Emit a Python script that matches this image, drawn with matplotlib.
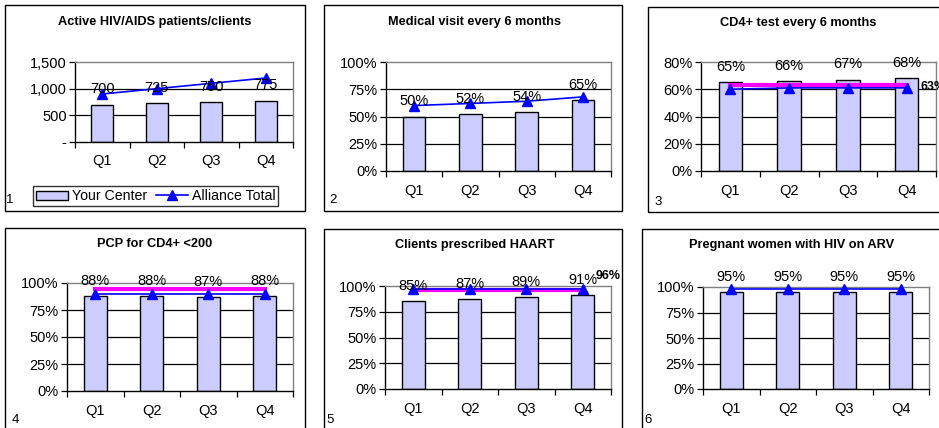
import matplotlib
matplotlib.use("Agg")
import matplotlib.pyplot as plt
from matplotlib.patches import Rectangle
from matplotlib.lines import Line2D
from matplotlib.ticker import FuncFormatter

plt.rcParams['font.family'] = ['Liberation Sans', 'DejaVu Sans']

W, H = 939, 428

quarters = ['Q1', 'Q2', 'Q3', 'Q4']

titles = [
    'Active HIV/AIDS patients/clients',
    'Medical visit every 6 months',
    'CD4+ test every 6 months',
    'PCP for CD4+ <200',
    'Clients prescribed HAART',
    'Pregnant women with HIV on ARV',
]

# Your Center (bars)
center_vals = [
    [700, 725, 750, 775],
    [50, 52, 54, 65],
    [65, 66, 67, 68],
    [88, 88, 87, 88],
    [85, 87, 89, 91],
    [95, 95, 95, 95],
]

# Alliance Total (blue line)
alliance_vals = [
    [900, 1000, 1100, 1200],
    [60, 62, 64, 68],
    [60, 61, 61, 61],
    [90, 90, 90, 90],
    [97, 97, 97, 97],
    [98, 98, 98, 98],
]

# benchmark (magenta line); None where not shown
target_vals = [None, None, 63, 94, 96, None]
target_labels = [False, False, True, False, True, False]

y_max = [1500, 100, 80, 100, 100, 100]
y_step = [500, 25, 20, 25, 25, 25]

# pixel layout: outer panel box and inner plot area
panel_boxes = [
    (5, 5, 305, 211), (324, 5, 622, 211), (648, 7, 950, 212),
    (5, 228, 305, 440), (324, 229, 622, 440), (642, 229, 950, 440),
]
plot_areas = [
    (75, 62, 293, 142), (386, 62, 611, 171), (701, 62, 936, 171),
    (67, 283, 293, 391), (385, 286, 611, 389), (703, 287, 929, 389),
]
title_pos = [(155, 22), (474, 22), (798, 23), (155, 244), (475, 245), (792, 245)]
num_pos = [(10, 200), (333, 200), (658, 202), (15, 420), (330, 420), (648, 420)]

BAR_COLOR = '#CCCCFF'
BLUE = '#0000FF'
MAGENTA = '#FF00FF'


def fx(x):
    return x / W


def fy(y):
    return 1 - y / H


fig = plt.figure(figsize=(W / 100, H / 100), dpi=100)
fig.patch.set_facecolor('white')

for i in range(6):
    x0, y0, x1, y1 = panel_boxes[i]
    fig.patches.append(Rectangle((fx(x0), fy(y1)), fx(x1 - x0), (y1 - y0) / H,
                                 transform=fig.transFigure, fill=False,
                                 edgecolor='black', linewidth=1.0, zorder=0))

    a0, b0, a1, b1 = plot_areas[i]
    ax = fig.add_axes([fx(a0), fy(b1), fx(a1 - a0), (b1 - b0) / H])
    xs = list(range(len(quarters)))

    ax.bar(xs, center_vals[i], width=0.4, color=BAR_COLOR, edgecolor='black',
           linewidth=1.0, zorder=2, label='Your Center')

    if target_vals[i] is not None:
        tv = [target_vals[i]] * len(quarters)
        ax.plot(xs, tv, color=MAGENTA, linewidth=3, zorder=3, clip_on=False)
        if target_labels[i]:
            ax.annotate(f'{target_vals[i]}%', (xs[-1], tv[-1]),
                        xytext=(10, -1) if i == 2 else (9, 10),
                        textcoords='offset points', ha='left', va='center',
                        fontsize=9, fontweight='bold', annotation_clip=False, zorder=5)

    ax.plot(xs, alliance_vals[i], color=BLUE, linewidth=1.2, marker='^',
            markersize=7, zorder=4, clip_on=False, label='Alliance Total')

    for x, v in zip(xs, center_vals[i]):
        txt = f'{v:,}' if i == 0 else f'{v}%'
        ax.annotate(txt, (x, v), xytext=(0, 11), textcoords='offset points',
                    ha='center', va='center', fontsize=10.5, zorder=5,
                    annotation_clip=False)

    ax.set_xlim(-0.5, len(quarters) - 0.5)
    ax.set_ylim(0, y_max[i])
    ticks = list(range(0, y_max[i] + 1, y_step[i]))
    ax.set_yticks(ticks)
    if i == 0:
        ax.yaxis.set_major_formatter(FuncFormatter(lambda v, p: '-' if v == 0 else f'{int(v):,}'))
    else:
        ax.yaxis.set_major_formatter(FuncFormatter(lambda v, p: f'{int(v)}%'))
    for t in ticks[1:-1]:
        ax.axhline(t, color='black', linewidth=0.9, zorder=1)

    ax.set_xticks([x - 0.5 for x in xs] + [len(quarters) - 0.5])
    ax.set_xticklabels([])
    ax.set_xticks(xs, minor=True)
    ax.set_xticklabels(quarters, minor=True)
    ax.tick_params(axis='x', which='major', direction='out', length=4, width=0.9)
    ax.tick_params(axis='x', which='minor', length=0, pad=9, labelsize=10.5)
    ax.tick_params(axis='y', direction='out', length=4, width=0.9, labelsize=10.5, pad=2)

    for side in ('top', 'right'):
        ax.spines[side].set_color('#808080')
        ax.spines[side].set_linewidth(1.0)
    for side in ('left', 'bottom'):
        ax.spines[side].set_color('black')
        ax.spines[side].set_linewidth(1.0)
    ax.set_facecolor('white')

    tx, ty = title_pos[i]
    fig.text(fx(tx), fy(ty), titles[i], ha='center', va='center',
             fontsize=9.2, fontweight='bold')
    nx, ny = num_pos[i]
    fig.text(fx(nx), fy(ny), str(i + 1), ha='center', va='center', fontsize=9.5)

    if i == 0:
        handles = [Rectangle((0, 0), 1, 1, facecolor=BAR_COLOR, edgecolor='black', linewidth=1.0),
                   Line2D([], [], color=BLUE, marker='^', markersize=7, linewidth=1.2)]
        leg = fig.legend(handles, ['Your Center', 'Alliance Total'], ncol=2,
                         loc='center', bbox_to_anchor=(fx(155.5), fy(196)),
                         frameon=True, fancybox=False, edgecolor='black',
                         fontsize=10.2, handlelength=2.3, handletextpad=0.25,
                         columnspacing=0.6, borderpad=0.2, handleheight=0.6,
                         borderaxespad=0.2)
        leg.get_frame().set_linewidth(1.0)

fig.savefig('out.png', dpi=100, facecolor='white')
